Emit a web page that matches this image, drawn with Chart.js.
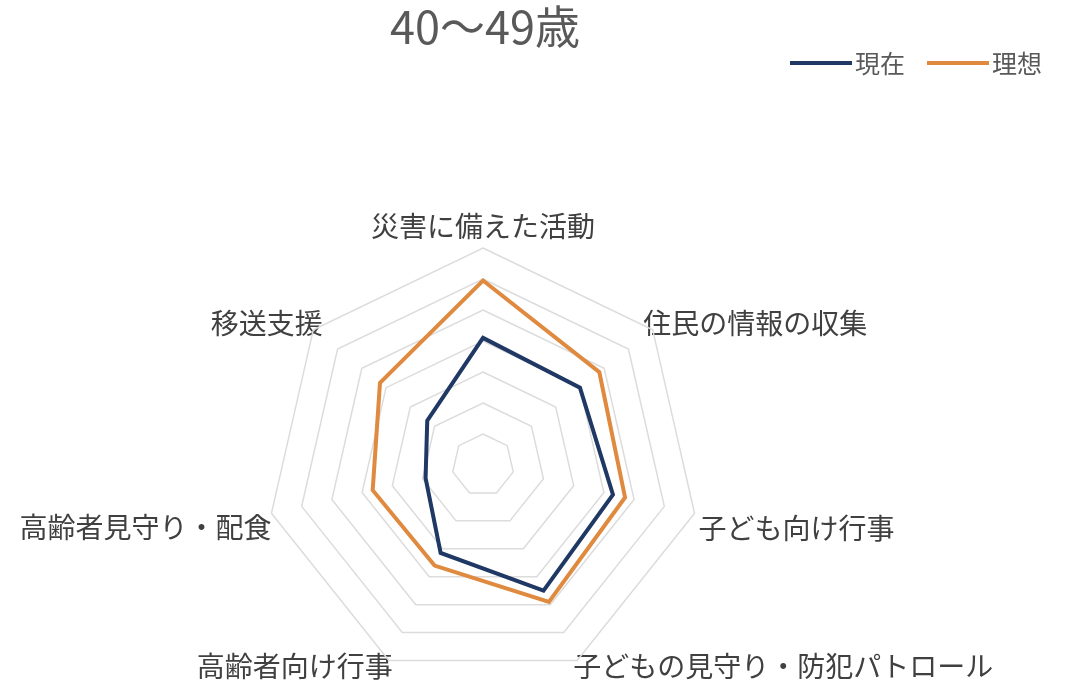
<!DOCTYPE html>
<html lang="ja">
<head>
<meta charset="utf-8">
<title>40〜49歳</title>
<script src="https://cdn.jsdelivr.net/npm/chart.js@4/dist/chart.umd.min.js"></script>
<style>
  html, body { margin: 0; padding: 0; background: #fff; overflow: hidden; }
  #wrap { width: 1071px; height: 684px; overflow: hidden; position: relative; }
  /* canvas is a bit larger than the page so the radar can sit low and wide */
  #myChart { position: absolute; left: -43px; top: 0; }
</style>
</head>
<body>
<div id="wrap"><canvas id="myChart" width="1130" height="704"></canvas></div>
<script>
let chartTitle = '40〜49歳';

let labels = [
    '災害に備えた活動',
    '住民の情報の収集',
    '子ども向け行事',
    '子どもの見守り・防犯パトロール',
    '高齢者向け行事',
    '高齢者見守り・配食',
    '移送支援'
];

let seriesNames = ['現在', '理想'];
let currentData = [41, 40, 43, 45, 31.5, 19, 23];
let idealData = [59.5, 48, 47, 49, 36, 36.5, 42.5];

let scaleMax = 70;
let scaleStep = 10;

const fontFamily = '"Noto Sans CJK JP", "Noto Sans", sans-serif';

// legend in the top right corner, drawn as line swatches
const lineLegend = {
    id: 'lineLegend',
    afterDraw(chart) {
        const ctx = chart.ctx;
        let x = 833;
        const y = 63;
        ctx.save();
        ctx.font = '25px ' + fontFamily;
        ctx.textBaseline = 'middle';
        chart.data.datasets.forEach(function(ds) {
            ctx.strokeStyle = ds.borderColor;
            ctx.lineWidth = 4;
            ctx.beginPath();
            ctx.moveTo(x, y);
            ctx.lineTo(x + 62, y);
            ctx.stroke();
            ctx.fillStyle = '#595959';
            ctx.fillText(ds.label, x + 65, y);
            x += 65 + ctx.measureText(ds.label).width + 22;
        });
        ctx.restore();
    }
};

const data = {
    labels: labels,
    datasets: [{
        label: seriesNames[0],
        data: currentData,
        borderColor: '#1f3864',
        backgroundColor: '#1f3864',
        borderWidth: 4,
        fill: false,
        pointRadius: 0,
        pointHoverRadius: 0
    }, {
        label: seriesNames[1],
        data: idealData,
        borderColor: '#df8a3f',
        backgroundColor: '#df8a3f',
        borderWidth: 4,
        fill: false,
        pointRadius: 0,
        pointHoverRadius: 0
    }]
};

// per-label distance from the outer ring
let labelPad = [8, -12, 4, -9, -9, 0, -12];

const config = {
    type: 'radar',
    data: data,
    options: {
        responsive: false,
        animation: false,
        layout: {
            padding: { top: 0, left: 3, right: 77, bottom: 4 }
        },
        plugins: {
            legend: { display: false },
            tooltip: { enabled: false },
            title: {
                display: true,
                text: chartTitle,
                color: '#595959',
                font: { family: fontFamily, size: 45, weight: 'normal' },
                padding: { top: 0, bottom: 140 }
            }
        },
        scales: {
            r: {
                min: 0,
                max: scaleMax,
                ticks: { display: false, stepSize: scaleStep },
                angleLines: { display: false },
                grid: { color: '#dcdcdc', lineWidth: 1.5 },
                pointLabels: {
                    color: '#404040',
                    font: { family: fontFamily, size: 28, lineHeight: 1.0 },
                    padding: function(ctx) { return labelPad[ctx.index]; }
                }
            }
        }
    },
    plugins: [lineLegend]
};

const chart = new Chart(document.getElementById('myChart'), config);
</script>
</body>
</html>
